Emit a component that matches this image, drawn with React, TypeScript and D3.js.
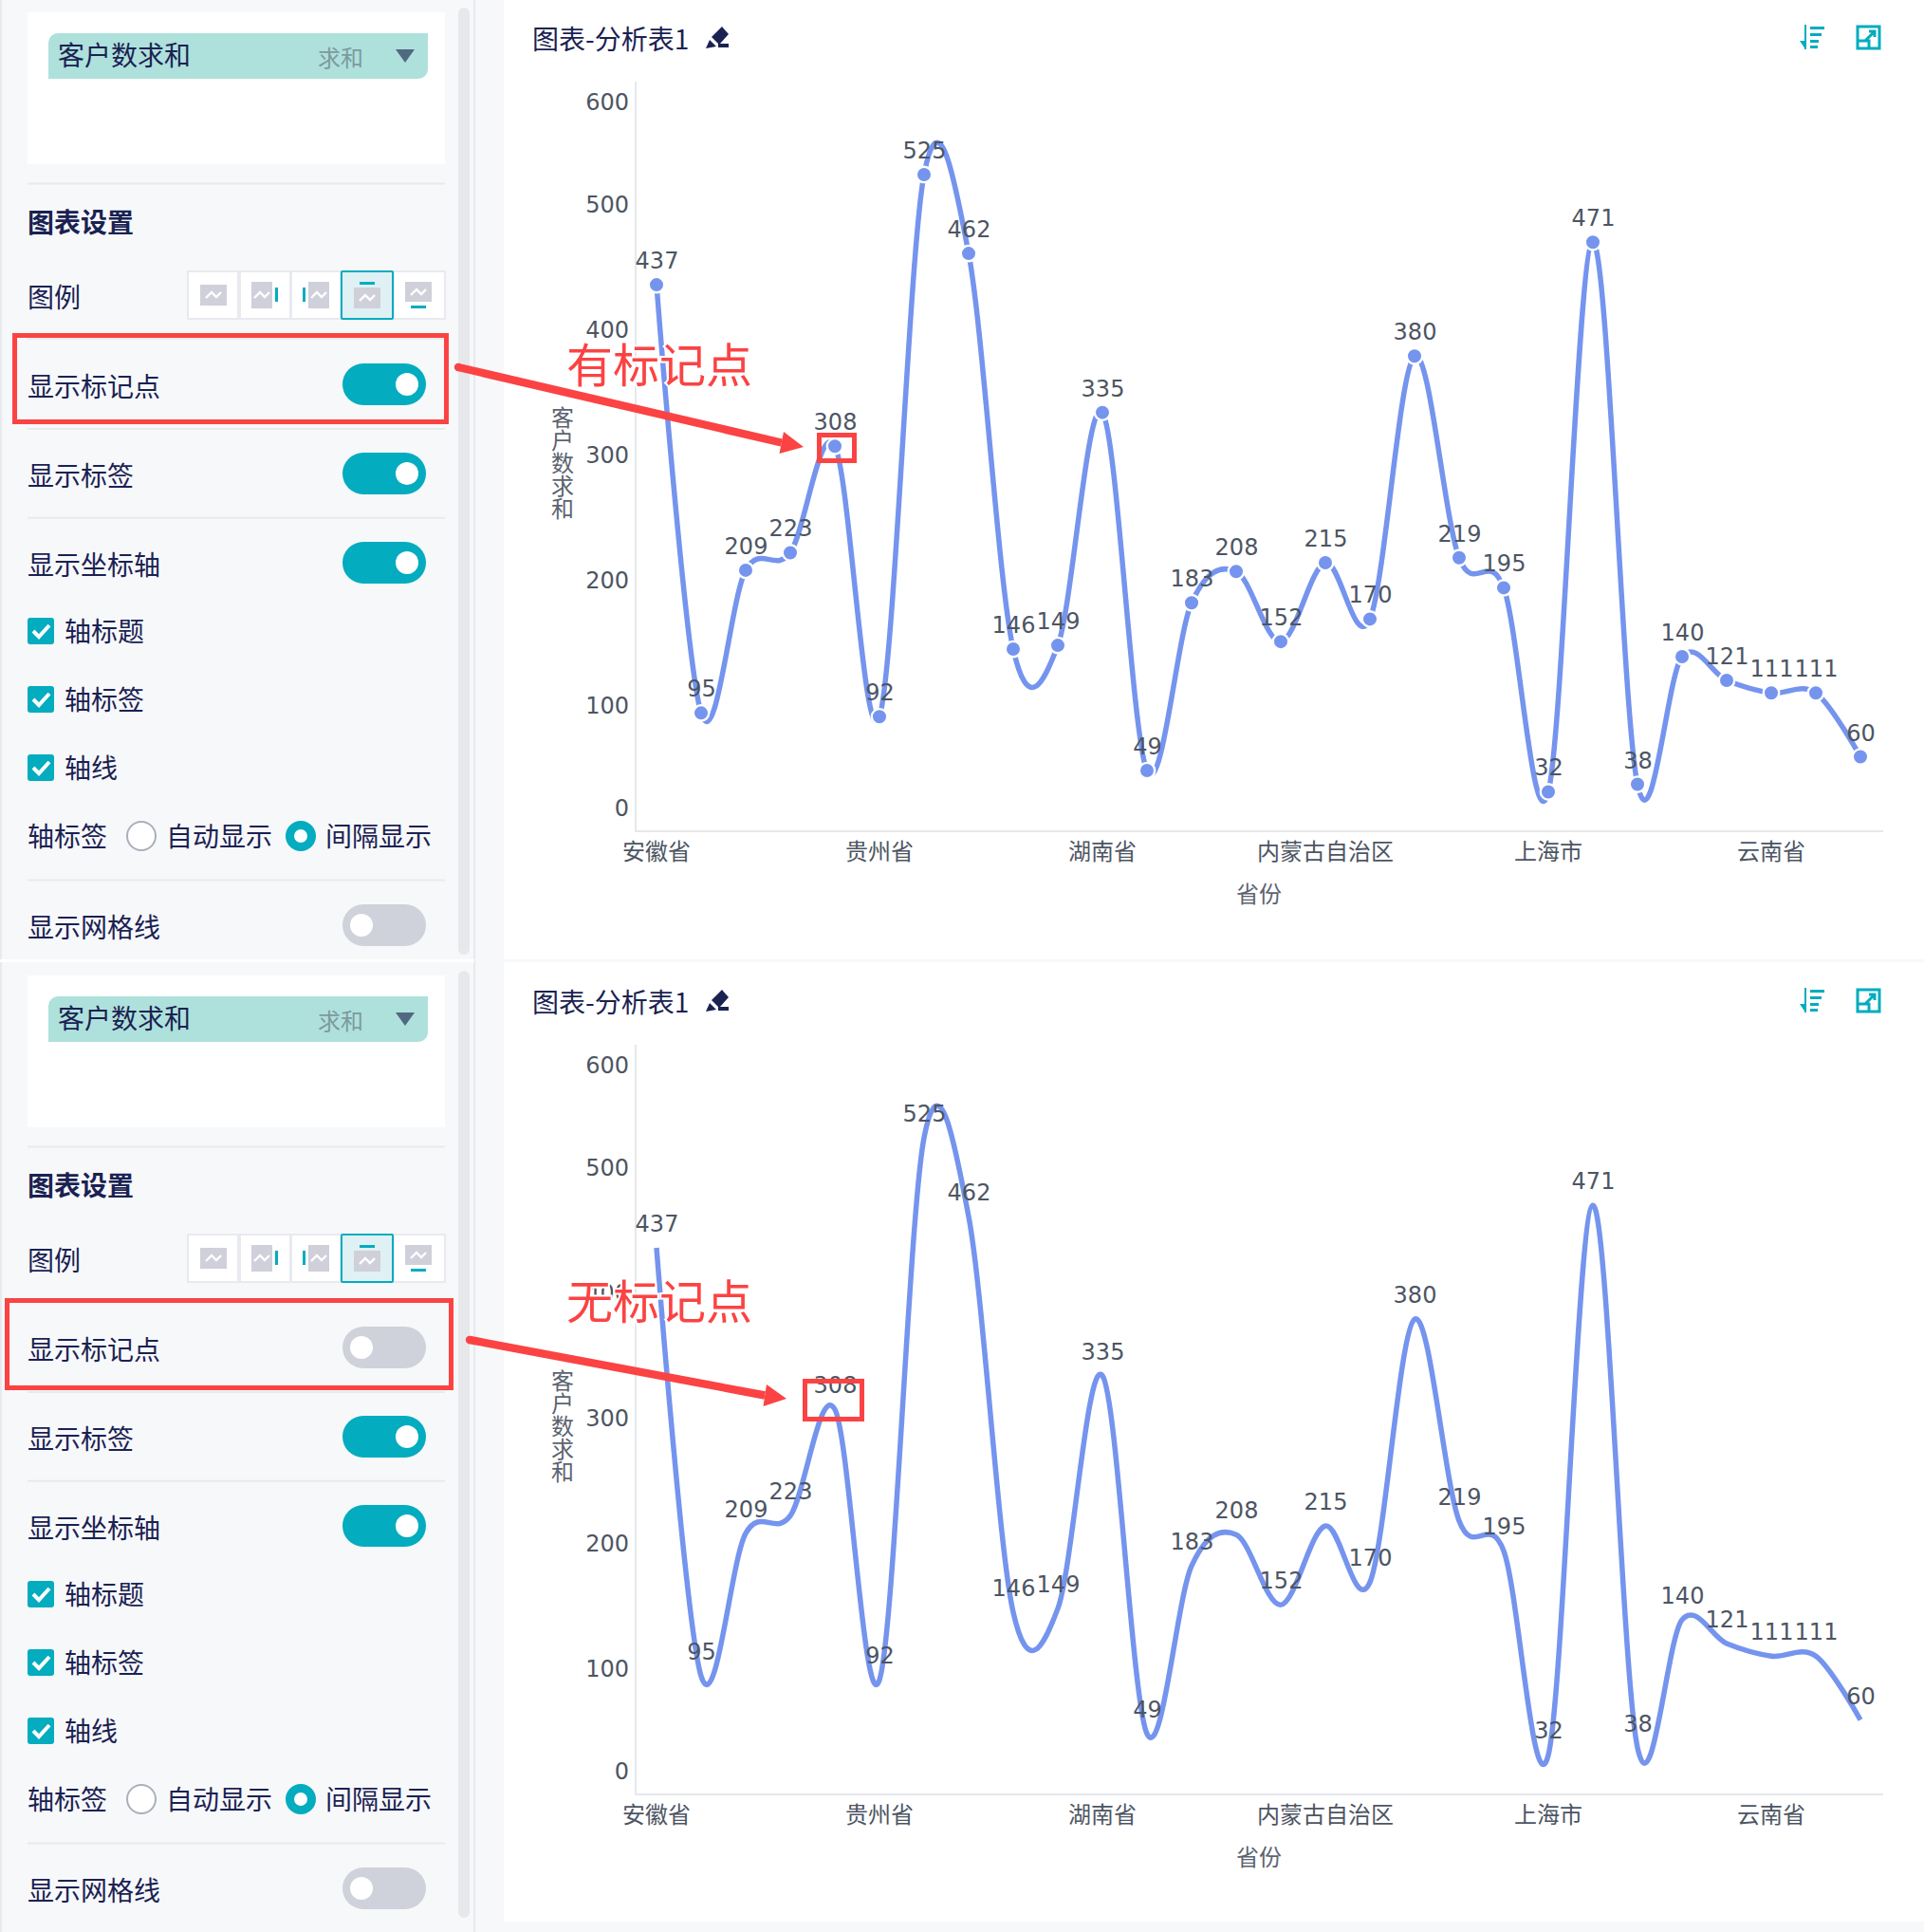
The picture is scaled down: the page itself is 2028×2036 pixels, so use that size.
import React from "react";
import * as d3 from "d3";

const provinceValues = [437, 95, 209, 223, 308, 92, 525, 462, 146, 149, 335, 49, 183, 208, 152, 215, 170, 380, 219, 195, 32, 471, 38, 140, 121, 111, 111, 60];
const xLabels: [number, string][] = [[0, "安徽省"], [5, "贵州省"], [10, "湖南省"], [15, "内蒙古自治区"], [20, "上海市"], [25, "云南省"]];
const yTicks = [0, 100, 200, 300, 400, 500, 600];
const yTitle = ["客", "户", "数", "求", "和"];
const checkRows: [number, string][] = [[665, "轴标题"], [737, "轴标签"], [809, "轴线"]];

const LINE = "#7594ee";
const TEAL = "#03acbf";
const RED = "#fb4343";
const NAVY = "#1a2252";
const GREY = "#4d5563";
const CJK = "'Noto Sans CJK SC','Noto Sans',sans-serif";
const NUM = "'DejaVu Sans','Noto Sans CJK SC',sans-serif";

const x = d3.scaleLinear().domain([0, provinceValues.length - 1]).range([692, 1961]);
const y = d3.scaleLinear().domain([0, 600]).range([876.7, 85]);
const linePath = d3.line<number>().x((_, i) => x(i)).y((d) => y(d)).curve(d3.curveCardinal.tension(0));

function Txt({ px, py, size = 28, fill = NAVY, anchor = "start", weight = 400, family = CJK, children }: any) {
  return (
    <text x={px} y={py} fontSize={size} fill={fill} textAnchor={anchor} fontWeight={weight} fontFamily={family} dominantBaseline="central">
      {children}
    </text>
  );
}

function Toggle({ cy, on }: { cy: number; on: boolean }) {
  return (
    <g>
      <rect x={361} y={cy - 22} width={88} height={44} rx={22} fill={on ? TEAL : "#cfd2da"} />
      <circle cx={on ? 429 : 381} cy={cy} r={12} fill="#fff" />
    </g>
  );
}

function Sep({ py }: { py: number }) {
  return <rect x={29} y={py - 1} width={440} height={2} fill="#e8eaee" />;
}

function Zig({ cx, cy }: { cx: number; cy: number }) {
  return <polyline points={`${cx - 8},${cy + 3} ${cx - 2},${cy - 3} ${cx + 3},${cy + 2} ${cx + 8},${cy - 3}`} fill="none" stroke="#fff" strokeWidth={2.4} />;
}

function LegendIcons() {
  const cells = [197, 252, 306, 359, 414];
  const w = [54, 54, 53, 55, 55];
  return (
    <g>
      {cells.map((c, i) => (
        <rect key={i} x={c + 1} y={286} width={w[i] - 1} height={50} fill="#fff" stroke="#e8eaef" strokeWidth={2} />
      ))}
      <rect x={360} y={286} width={54} height={50} fill="#dff1f5" stroke={TEAL} strokeWidth={2} rx={1} />
      <rect x={211} y={300} width={28} height={22} fill="#cfd0da" />
      <Zig cx={225} cy={311} />
      <rect x={265} y={297} width={22} height={28} fill="#cfd0da" />
      <Zig cx={276} cy={311} />
      <rect x={290} y={303} width={3} height={15} fill={TEAL} />
      <rect x={319} y={303} width={3} height={15} fill={TEAL} />
      <rect x={325} y={297} width={22} height={28} fill="#cfd0da" />
      <Zig cx={336} cy={311} />
      <rect x={379} y={297} width={16} height={3} fill={TEAL} />
      <rect x={373} y={303} width={28} height={22} fill="#cfd0da" />
      <Zig cx={387} cy={314} />
      <rect x={427} y={297} width={28} height={21} fill="#cfd0da" />
      <Zig cx={441} cy={308} />
      <rect x={433} y={322} width={16} height={3} fill={TEAL} />
    </g>
  );
}

function Sidebar({ dy, markers }: { dy: number; markers: boolean }) {
  return (
    <g transform={`translate(0,${dy})`}>
      <rect x={29} y={13} width={440} height={160} fill="#fff" />
      <path d="M61,35 H451 V73 A10,10 0 0 1 441,83 H51 V45 A10,10 0 0 1 61,35 Z" fill="#aee1db" />
      <Txt px={61} py={57}>客户数求和</Txt>
      <Txt px={335} py={59} size={24} fill="#7d9a9f">求和</Txt>
      <polygon points="417,52 437,52 427,66" fill="#526880" />
      <Sep py={193.5} />
      <Txt px={29} py={233} weight={700}>图表设置</Txt>
      <Txt px={29} py={312}>图例</Txt>
      <LegendIcons />
      <Sep py={357} />
      <Txt px={29} py={406}>显示标记点</Txt>
      <Toggle cy={405} on={markers} />
      <Sep py={452} />
      <Txt px={29} py={500}>显示标签</Txt>
      <Toggle cy={499} on={true} />
      <Sep py={545.7} />
      <Txt px={29} py={594}>显示坐标轴</Txt>
      <Toggle cy={593} on={true} />
      {checkRows.map(([cy, label]) => (
        <g key={label}>
          <rect x={29} y={cy - 14} width={28} height={28} rx={3} fill={TEAL} />
          <polyline points={`${35},${cy} ${41},${cy + 6} ${52},${cy - 6}`} fill="none" stroke="#fff" strokeWidth={4} />
          <Txt px={68} py={cy - 1}>{label}</Txt>
        </g>
      ))}
      <Txt px={29} py={880}>轴标签</Txt>
      <circle cx={149} cy={881} r={15} fill="#fff" stroke="#a9b0bb" strokeWidth={2} />
      <Txt px={175} py={880}>自动显示</Txt>
      <circle cx={317} cy={881} r={11.5} fill="#fff" stroke={TEAL} strokeWidth={9} />
      <Txt px={343} py={880}>间隔显示</Txt>
      <Sep py={927.5} />
      <Txt px={29} py={976}>显示网格线</Txt>
      <Toggle cy={975} on={false} />
      <rect x={483} y={8} width={12} height={998} rx={6} fill="#e6e8ec" />
    </g>
  );
}

function Chart({ dy, markers }: { dy: number; markers: boolean }) {
  return (
    <g transform={`translate(0,${dy})`}>
      <Txt px={561} py={40}>图表-分析表1</Txt>
      <g fill={NAVY}>
        <polygon points="761,28 768,36 758,47 750,39" />
        <polygon points="748,42 755,49 744,51" />
        <rect x={757} y={46} width={11} height={4} />
      </g>
      <g fill={TEAL}>
        <rect x={1902} y={26} width={2} height={26} />
        <polygon points="1897,43 1903,43 1903,52" />
        <rect x={1908} y={28} width={15} height={3} />
        <rect x={1908} y={35} width={12} height={3} />
        <rect x={1908} y={42} width={9} height={3} />
        <rect x={1908} y={48} width={8} height={3} />
      </g>
      <g fill="none" stroke={TEAL} strokeWidth={3}>
        <rect x={1958} y={28} width={23} height={23} />
        <path d="M1958,43 H1970 V51 M1966,43 L1976,33 M1970,33 H1976 V39" />
      </g>

      <rect x={669} y={86} width={2} height={791} fill="#e6e8ec" />
      <rect x={669} y={875} width={1316} height={2} fill="#e6e8ec" />
      {yTicks.map((t) => (
        <Txt key={t} px={663} py={Math.max(108, Math.min(852, y(t) - 1))} size={24} fill={GREY} anchor="end" family={NUM}>{t}</Txt>
      ))}
      {xLabels.map(([i, label]) => (
        <Txt key={label} px={x(i)} py={895} size={24} fill={GREY} anchor="middle">{label}</Txt>
      ))}
      <Txt px={1327} py={940} size={24} fill="#5c6370" anchor="middle">省份</Txt>
      {yTitle.map((c, i) => (
        <Txt key={c} px={593} py={438 + i * 24} size={24} fill="#5c6370" anchor="middle">{c}</Txt>
      ))}

      <path d={linePath(provinceValues) ?? ""} fill="none" stroke={LINE} strokeWidth={5.5} strokeLinejoin="round" />
      {markers && provinceValues.map((v, i) => (
        <circle key={i} cx={x(i)} cy={y(v)} r={8.2} fill={LINE} stroke="#fff" strokeWidth={2.4} />
      ))}
      {provinceValues.map((v, i) => (
        <Txt key={i} px={x(i) + 0.5} py={y(v) - 25} size={24} fill={GREY} anchor="middle" family={NUM}>{v}</Txt>
      ))}
    </g>
  );
}

function Arrow({ from, tip, a, b }: { from: [number, number]; tip: [number, number]; a: [number, number]; b: [number, number] }) {
  const ang = Math.atan2(tip[1] - from[1], tip[0] - from[0]);
  const mx = (a[0] + b[0]) / 2;
  const my = (a[1] + b[1]) / 2;
  const nx = -Math.sin(ang) * 4.2;
  const ny = Math.cos(ang) * 4.2;
  return (
    <g fill={RED}>
      <circle cx={from[0]} cy={from[1]} r={4.2} />
      <polygon points={`${from[0] + nx},${from[1] + ny} ${mx + nx},${my + ny} ${mx - nx},${my - ny} ${from[0] - nx},${from[1] - ny}`} />
      <polygon points={`${a[0]},${a[1]} ${tip[0]},${tip[1]} ${b[0]},${b[1]}`} />
    </g>
  );
}

function RedBox({ x0, y0, x1, y1 }: { x0: number; y0: number; x1: number; y1: number }) {
  return <rect x={x0} y={y0} width={x1 - x0} height={y1 - y0} fill="none" stroke={RED} strokeWidth={5} />;
}

function Note({ cy, children }: { cy: number; children: string }) {
  return (
    <text x={597} y={cy} fontSize={49} fill={RED} fontFamily={CJK} dominantBaseline="central" stroke="#fff" strokeWidth={4} paintOrder="stroke">
      {children}
    </text>
  );
}

export default function App() {
  return (
    <svg width={2028} height={2036} viewBox="0 0 2028 2036" style={{ position: "absolute", left: 0, top: 0, display: "block" }}>
      <rect width={2028} height={2036} fill="#f7f8fa" />
      <rect x={0} y={0} width={2} height={2036} fill="#e8eaee" />
      <rect x={499} y={0} width={2} height={2036} fill="#e8eaee" />
      <rect x={531} y={0} width={1497} height={1011} fill="#fff" />
      <rect x={531} y={1014} width={1497} height={1011} fill="#fff" />
      <rect x={0} y={1011} width={500} height={3} fill="#fff" />
      <Sidebar dy={0} markers={true} />
      <Sidebar dy={1015} markers={false} />
      <Chart dy={0} markers={true} />
      <Chart dy={1015} markers={false} />
      <Note cy={381}>有标记点</Note>
      <Note cy={1368}>无标记点</Note>
      <Arrow from={[483, 387]} tip={[847, 471]} a={[826, 455]} b={[821.5, 478]} />
      <Arrow from={[495, 1412]} tip={[829, 1474]} a={[808, 1459]} b={[804.5, 1482]} />
      <RedBox x0={15.5} y0={353.5} x1={470.5} y1={444.5} />
      <RedBox x0={7.5} y0={1370.5} x1={475.5} y1={1462.5} />
      <RedBox x0={863.5} y0={458.5} x1={900.5} y1={485.5} />
      <RedBox x0={848.5} y0={1455.5} x1={908.5} y1={1495.5} />
    </svg>
  );
}
